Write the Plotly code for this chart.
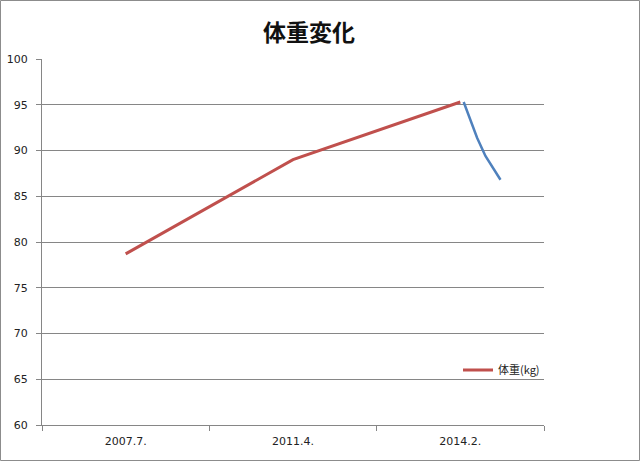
import plotly.graph_objects as go

categories = ["2007.7.", "2011.4.", "2014.2."]
weight_kg = [78.7, 89.0, 95.3]

# second (blue) series, positions on the category scale
recent_x = [2.02, 2.10, 2.15, 2.24]
recent_kg = [95.3, 91.4, 89.4, 86.8]

yticks = [60, 65, 70, 75, 80, 85, 90, 95, 100]

W, H = 640, 461
L, R, T, B = 42, 96, 59, 36
pw, ph = W - L - R, H - T - B

fig = go.Figure()
fig.add_trace(go.Scatter(
    x=list(range(len(categories))), y=weight_kg, mode="lines",
    name="体重(kg)", line=dict(color="#C0504D", width=3),
))
fig.add_trace(go.Scatter(
    x=recent_x, y=recent_kg, mode="lines", showlegend=False,
    line=dict(color="#4F81BD", width=2.5),
))

axis_font = dict(family="DejaVu Sans, sans-serif", size=11, color="#222")

fig.update_layout(
    width=W, height=H,
    margin=dict(l=L, r=R, t=T, b=B, autoexpand=False),
    paper_bgcolor="white", plot_bgcolor="white",
    title=dict(text="<b>体重変化</b>", x=309 / W, xanchor="center", y=1 - 33 / H, yanchor="middle",
               font=dict(family="Noto Sans CJK JP, sans-serif", size=23, color="#111")),
    xaxis=dict(
        range=[-0.5, 2.5], tickmode="array", tickvals=[0, 1, 2], ticktext=categories,
        ticks="", showgrid=False, zeroline=False,
        showline=True, linecolor="#868686", linewidth=1,
        tickfont=axis_font, ticklabelstandoff=6,
        minor=dict(ticks="outside", tickvals=[-0.5, 0.5, 1.5, 2.5], ticklen=5,
                   tickcolor="#868686", showgrid=False),
    ),
    yaxis=dict(
        range=[60, 100], tickmode="array", tickvals=yticks,
        ticks="outside", ticklen=5, tickcolor="#868686",
        showgrid=True, gridcolor="#868686", gridwidth=1, zeroline=False,
        showline=True, linecolor="#868686", linewidth=1,
        tickfont=axis_font, ticklabelstandoff=6,
    ),
    legend=dict(xref="container", yref="container", x=458 / W, y=1 - 370 / H,
                xanchor="left", yanchor="middle", itemwidth=30,
                font=dict(family="Noto Sans CJK JP, sans-serif", size=11, color="#222"),
                bgcolor="rgba(0,0,0,0)"),
    showlegend=True,
)

fig.add_shape(type="rect", xref="paper", yref="paper",
              x0=(-L + 0.5) / pw, x1=(W - L - 0.5) / pw,
              y0=(-B + 0.5) / ph, y1=(H - B - 0.5) / ph,
              line=dict(color="#8C8C8C", width=1), layer="above")

fig.write_html("out.html", config={"displayModeBar": False},
               post_script="document.body.style.margin='0';document.body.style.overflow='hidden';")
